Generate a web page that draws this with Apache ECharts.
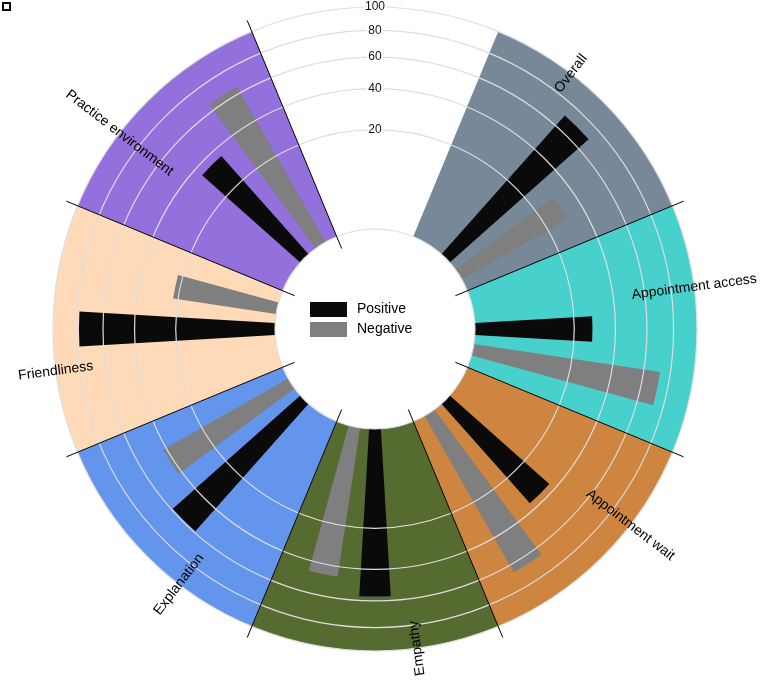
<!DOCTYPE html>
<html><head><meta charset="utf-8">
<script src="https://cdn.jsdelivr.net/npm/echarts@6/dist/echarts.min.js"></script>
<style>html,body{margin:0;padding:0;background:#fff}#chart{width:774px;height:682px}</style>
</head><body><div id="chart"></div>
<script>
// ---- data ----
const categories = ['Overall', 'Appointment access', 'Appointment wait', 'Empathy', 'Explanation', 'Friendliness', 'Practice environment'];
const positive = [70, 28, 36, 57, 59, 78, 35];
const negative = [30, 72, 66, 46, 42, 22, 65];
const sectorColors = ['#778899', '#48D1CC', '#CD853F', '#556B2F', '#6495ED', '#FFDAB9', '#9370DB'];
const tickValues = [0, 20, 40, 60, 80, 100];
const seriesNames = ['Positive', 'Negative'];
const maxValue = 100;

// angle slots: slot 0 is the empty gap centred at the top
const slots = [''].concat(categories);
// the radial axis uses a square-root scale
const sq = v => (v == null ? null : Math.sqrt(v));
const rMax = sq(maxValue);

const FONT = '"Liberation Sans", Arial, Helvetica, sans-serif';

function geom(params, api, rVal, idx) {
  const cs = params.coordSys;
  const p = api.coord([rVal, idx]);
  const dx = p[0] - cs.cx, dy = p[1] - cs.cy;
  return { cx: cs.cx, cy: cs.cy, r0: cs.r0, rOut: cs.r, r: Math.hypot(dx, dy), ang: Math.atan2(-dy, dx), half: api.size([0, 1])[1] / 2 };
}

const chart = echarts.init(document.getElementById('chart'), null, { renderer: 'canvas' });

const option = {
  animation: false,
  backgroundColor: '#fff',
  polar: { center: [375, 329], radius: [100, 322] },
  angleAxis: {
    type: 'category', data: slots, startAngle: 112.5, clockwise: true,
    axisLine: { show: false }, axisTick: { show: false }, axisLabel: { show: false }, splitLine: { show: false }
  },
  radiusAxis: {
    type: 'value', min: 0, max: rMax,
    axisLine: { show: false }, axisTick: { show: false }, axisLabel: { show: false }, splitLine: { show: false }
  },
  legend: {
    data: seriesNames, orient: 'vertical', left: 305, top: 297,
    itemWidth: 37, itemHeight: 15, itemGap: 5, icon: 'rect',
    textStyle: { fontSize: 14, color: '#000', fontFamily: FONT, lineHeight: 15, padding: [0, 0, 0, 5] }
  },
  graphic: [{ type: 'rect', left: 2, top: 2, shape: { width: 7, height: 7 }, style: { fill: '#fff', stroke: '#000', lineWidth: 2 } }],
  series: [
    {
      name: 'sectors', type: 'custom', coordinateSystem: 'polar', z: 1, silent: true,
      data: categories.map((c, i) => [rMax, i + 1, i]),
      renderItem: function (params, api) {
        const g = geom(params, api, api.value(0), api.value(1));
        return {
          type: 'sector',
          shape: { cx: g.cx, cy: g.cy, r0: g.r0, r: g.r, startAngle: -g.ang - g.half, endAngle: -g.ang + g.half, clockwise: true },
          style: { fill: sectorColors[api.value(2)] }
        };
      }
    },
    {
      name: 'spacer', type: 'bar', coordinateSystem: 'polar', z: 2,
      data: slots.map(() => null), barWidth: '15%', barGap: '77%'
    },
    {
      name: 'Positive', type: 'bar', coordinateSystem: 'polar', z: 2,
      data: [null].concat(positive.map(sq)),
      itemStyle: { color: '#0a0a0a' }, barWidth: '15%', barGap: '77%'
    },
    {
      name: 'Negative', type: 'bar', coordinateSystem: 'polar', z: 2,
      data: [null].concat(negative.map(sq)),
      itemStyle: { color: '#7f7f7f' }, barWidth: '15%', barGap: '77%'
    },
    {
      name: 'rings', type: 'custom', coordinateSystem: 'polar', z: 3, silent: true,
      data: tickValues.map(v => [sq(v), 0]),
      renderItem: function (params, api) {
        const g = geom(params, api, api.value(0), 0);
        return { type: 'circle', shape: { cx: g.cx, cy: g.cy, r: g.r }, style: { fill: 'none', stroke: '#dedede', lineWidth: 1.2 } };
      }
    },
    {
      name: 'dividers', type: 'custom', coordinateSystem: 'polar', z: 3, silent: true,
      data: categories.map((c, i) => [rMax, i + 1]),
      renderItem: function (params, api) {
        const g = geom(params, api, api.value(0), api.value(1));
        const a = g.ang - g.half; // clockwise end of the band
        const rIn = g.r0 - 13, rOut = g.r + 12;
        return {
          type: 'line',
          shape: { x1: g.cx + rIn * Math.cos(a), y1: g.cy - rIn * Math.sin(a), x2: g.cx + rOut * Math.cos(a), y2: g.cy - rOut * Math.sin(a) },
          style: { stroke: '#000', lineWidth: 1 }
        };
      }
    },
    {
      name: 'tickLabels', type: 'custom', coordinateSystem: 'polar', z: 4, silent: true,
      data: tickValues.filter(v => v > 0).map(v => [sq(v), 0, v]),
      renderItem: function (params, api) {
        const p = api.coord([api.value(0), 0]);
        return {
          type: 'text', x: p[0], y: p[1],
          style: { text: String(api.value(2)), fill: '#111', font: '12px ' + FONT, textAlign: 'center', textVerticalAlign: 'middle', stroke: '#fff', lineWidth: 4 }
        };
      }
    },
    {
      name: 'catLabels', type: 'custom', coordinateSystem: 'polar', z: 4, silent: true,
      data: categories.map((c, i) => [rMax, i + 1, i]),
      renderItem: function (params, api) {
        const g = geom(params, api, api.value(0), api.value(1));
        const cwDeg = ((90 - g.ang * 180 / Math.PI) % 360 + 360) % 360;
        const a = g.ang + g.half / 3; // slightly counter-clockwise of the band centre
        const flip = cwDeg >= 179.9;
        return {
          type: 'text',
          x: g.cx + g.r * Math.cos(a), y: g.cy - g.r * Math.sin(a),
          rotation: flip ? a + Math.PI : a,
          style: { text: categories[api.value(2)], fill: '#000', font: '14px ' + FONT, textAlign: 'center', textVerticalAlign: 'middle' }
        };
      }
    }
  ]
};
chart.setOption(option);
</script></body></html>
